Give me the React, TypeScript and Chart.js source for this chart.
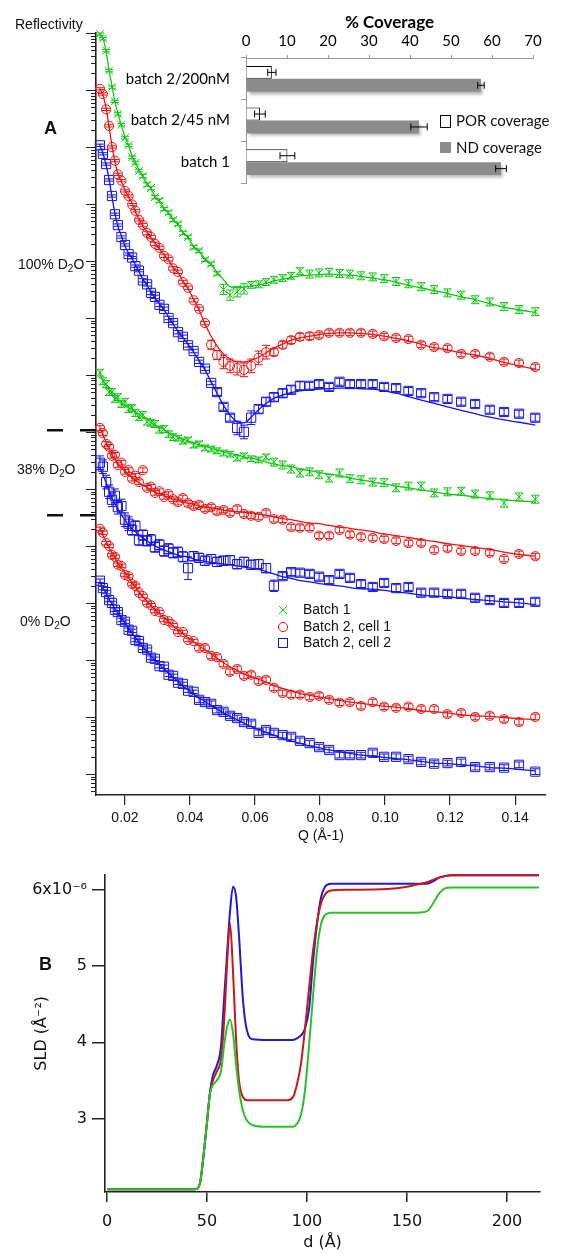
import React, { useEffect, useRef } from "react";
import { Chart, registerables } from "chart.js";
Chart.register(...registerables);

// ---------- Panel A : reflectivity (y values are log10 R) ----------
const Q = [0.0123, 0.0132, 0.0142, 0.0151, 0.0160, 0.0169, 0.0178, 0.0189, 0.0200, 0.0211, 0.0222, 0.0232, 0.0243, 0.0255, 0.0268, 0.0280, 0.0292, 0.0306, 0.0320, 0.0334, 0.0348, 0.0363, 0.0378, 0.0394, 0.0411, 0.0428, 0.0446, 0.0465, 0.0483, 0.0503, 0.0523, 0.0545, 0.0566, 0.0588, 0.0611, 0.0634, 0.0658, 0.0685, 0.0711, 0.0738, 0.0768, 0.0797, 0.0828, 0.0860, 0.0892, 0.0926, 0.0962, 0.0997, 0.1034, 0.1072, 0.1111, 0.1151, 0.1192, 0.1234, 0.1277, 0.1322, 0.1366, 0.1412, 0.1462];
const X_TICKS = [0.02, 0.04, 0.06, 0.08, 0.1, 0.12, 0.14];
const Q_MIN = 0.01108;
const Q_MAX = 0.1495;
const LOGR_MIN = -13.37;
const LOGR_MAX = 0;
const D2O38_MARKS = [-6.97, -8.46];

// 100% D2O
const G100_FIT = [-0.02, -0.09, -0.33, -0.65, -0.93, -1.21, -1.40, -1.63, -1.82, -1.98, -2.16, -2.30, -2.40, -2.53, -2.64, -2.74, -2.86, -2.96, -3.07, -3.17, -3.26, -3.37, -3.49, -3.60, -3.74, -3.84, -3.96, -4.07, -4.19, -4.33, -4.45, -4.47, -4.46, -4.44, -4.42, -4.39, -4.35, -4.32, -4.29, -4.26, -4.25, -4.24, -4.23, -4.24, -4.25, -4.27, -4.30, -4.33, -4.37, -4.43, -4.47, -4.52, -4.57, -4.63, -4.68, -4.75, -4.81, -4.86, -4.90];
const G100_DATA = [-0.02, -0.10, -0.31, -0.66, -0.95, -1.20, -1.42, -1.61, -1.84, -1.97, -2.18, -2.28, -2.42, -2.51, -2.66, -2.72, -2.88, -2.94, -3.09, -3.15, -3.28, -3.35, -3.51, -3.58, -3.76, -3.82, -3.98, -4.05, -4.22, -4.50, -4.60, -4.54, -4.49, -4.42, -4.41, -4.37, -4.33, -4.30, -4.26, -4.18, -4.23, -4.21, -4.20, -4.22, -4.23, -4.26, -4.28, -4.31, -4.36, -4.40, -4.45, -4.50, -4.56, -4.60, -4.68, -4.72, -4.80, -4.85, -4.89];
const G100_ERR = [0.02, 0.02, 0.02, 0.02, 0.02, 0.02, 0.02, 0.02, 0.02, 0.02, 0.02, 0.02, 0.02, 0.03, 0.03, 0.03, 0.03, 0.03, 0.03, 0.03, 0.03, 0.03, 0.03, 0.03, 0.03, 0.03, 0.03, 0.03, 0.03, 0.09, 0.09, 0.09, 0.09, 0.06, 0.06, 0.06, 0.06, 0.06, 0.06, 0.06, 0.07, 0.07, 0.07, 0.07, 0.07, 0.07, 0.07, 0.07, 0.07, 0.07, 0.07, 0.07, 0.07, 0.07, 0.07, 0.07, 0.07, 0.07, 0.07];

const R100_FIT = [-0.98, -1.09, -1.32, -1.65, -1.98, -2.26, -2.46, -2.61, -2.75, -2.88, -2.99, -3.14, -3.26, -3.39, -3.49, -3.60, -3.68, -3.79, -3.89, -3.99, -4.11, -4.21, -4.35, -4.49, -4.67, -4.86, -5.11, -5.32, -5.49, -5.63, -5.72, -5.77, -5.77, -5.74, -5.69, -5.61, -5.53, -5.46, -5.39, -5.35, -5.32, -5.29, -5.27, -5.26, -5.26, -5.27, -5.29, -5.32, -5.36, -5.40, -5.46, -5.52, -5.56, -5.61, -5.65, -5.71, -5.78, -5.84, -5.90];
const R100_DATA = [-0.98, -1.07, -1.34, -1.63, -2.00, -2.24, -2.48, -2.59, -2.77, -2.86, -3.01, -3.12, -3.28, -3.37, -3.51, -3.58, -3.70, -3.77, -3.91, -3.97, -4.13, -4.19, -4.37, -4.47, -4.69, -4.84, -5.09, -5.47, -5.65, -5.77, -5.84, -5.88, -5.91, -5.84, -5.70, -5.60, -5.60, -5.47, -5.39, -5.33, -5.32, -5.30, -5.26, -5.26, -5.26, -5.26, -5.28, -5.32, -5.35, -5.37, -5.47, -5.51, -5.53, -5.63, -5.63, -5.68, -5.77, -5.79, -5.86];
const R100_ERR = [0.02, 0.02, 0.02, 0.02, 0.02, 0.02, 0.02, 0.02, 0.02, 0.02, 0.02, 0.02, 0.02, 0.03, 0.03, 0.03, 0.03, 0.03, 0.03, 0.03, 0.03, 0.03, 0.03, 0.03, 0.03, 0.03, 0.03, 0.08, 0.08, 0.12, 0.12, 0.12, 0.12, 0.12, 0.12, 0.12, 0.06, 0.06, 0.06, 0.06, 0.06, 0.05, 0.05, 0.05, 0.05, 0.05, 0.05, 0.05, 0.05, 0.05, 0.05, 0.05, 0.05, 0.05, 0.05, 0.05, 0.05, 0.05, 0.05];

const B100_FIT = [-1.98, -2.11, -2.32, -2.56, -2.88, -3.16, -3.39, -3.56, -3.74, -3.86, -3.96, -4.07, -4.19, -4.32, -4.43, -4.54, -4.65, -4.75, -4.86, -4.98, -5.11, -5.23, -5.35, -5.46, -5.60, -5.75, -5.91, -6.12, -6.32, -6.53, -6.70, -6.82, -6.84, -6.74, -6.61, -6.50, -6.41, -6.35, -6.31, -6.28, -6.26, -6.25, -6.24, -6.23, -6.23, -6.24, -6.25, -6.28, -6.32, -6.38, -6.44, -6.50, -6.56, -6.62, -6.68, -6.74, -6.79, -6.83, -6.88];
const B100_DATA = [-1.97, -2.12, -2.30, -2.58, -2.86, -3.18, -3.37, -3.58, -3.72, -3.88, -3.94, -4.09, -4.17, -4.34, -4.41, -4.56, -4.63, -4.77, -4.84, -5.00, -5.09, -5.25, -5.33, -5.48, -5.58, -5.77, -5.89, -6.14, -6.30, -6.56, -6.75, -6.93, -7.00, -6.75, -6.60, -6.47, -6.39, -6.32, -6.26, -6.19, -6.19, -6.16, -6.21, -6.12, -6.16, -6.16, -6.16, -6.21, -6.23, -6.28, -6.32, -6.39, -6.42, -6.47, -6.51, -6.61, -6.65, -6.68, -6.75];
const B100_ERR = [0.02, 0.02, 0.02, 0.02, 0.02, 0.02, 0.02, 0.02, 0.02, 0.02, 0.02, 0.02, 0.02, 0.03, 0.03, 0.03, 0.03, 0.03, 0.03, 0.03, 0.03, 0.03, 0.03, 0.03, 0.03, 0.03, 0.03, 0.03, 0.06, 0.06, 0.06, 0.12, 0.12, 0.12, 0.07, 0.07, 0.07, 0.07, 0.07, 0.07, 0.06, 0.06, 0.06, 0.06, 0.06, 0.06, 0.06, 0.06, 0.06, 0.06, 0.06, 0.06, 0.06, 0.06, 0.06, 0.06, 0.06, 0.06, 0.06];

// 38% D2O
const G38_FIT = [-5.98, -6.09, -6.18, -6.25, -6.33, -6.39, -6.43, -6.48, -6.53, -6.57, -6.61, -6.65, -6.69, -6.74, -6.78, -6.83, -6.88, -6.92, -6.96, -7.01, -7.05, -7.09, -7.12, -7.16, -7.19, -7.23, -7.25, -7.29, -7.32, -7.35, -7.38, -7.40, -7.44, -7.46, -7.49, -7.53, -7.56, -7.59, -7.61, -7.65, -7.68, -7.71, -7.74, -7.77, -7.81, -7.84, -7.88, -7.91, -7.95, -7.98, -8.02, -8.05, -8.09, -8.11, -8.14, -8.17, -8.19, -8.21, -8.23];
const G38_DATA = [-5.96, -6.11, -6.16, -6.30, -6.30, -6.42, -6.39, -6.51, -6.47, -6.60, -6.58, -6.67, -6.74, -6.70, -6.82, -6.84, -6.86, -6.96, -6.95, -7.04, -7.09, -7.11, -7.16, -7.14, -7.23, -7.21, -7.28, -7.30, -7.33, -7.37, -7.39, -7.46, -7.42, -7.47, -7.49, -7.44, -7.53, -7.58, -7.65, -7.72, -7.70, -7.75, -7.81, -7.72, -7.82, -7.84, -7.88, -7.89, -7.98, -7.95, -7.95, -8.07, -8.05, -8.04, -8.09, -8.12, -8.25, -8.14, -8.18];
const G38_ERR = [0.06, 0.06, 0.06, 0.06, 0.06, 0.06, 0.06, 0.06, 0.06, 0.06, 0.06, 0.06, 0.06, 0.06, 0.06, 0.06, 0.06, 0.06, 0.06, 0.06, 0.06, 0.05, 0.05, 0.05, 0.05, 0.05, 0.05, 0.05, 0.05, 0.05, 0.05, 0.05, 0.05, 0.05, 0.05, 0.05, 0.07, 0.07, 0.07, 0.07, 0.07, 0.07, 0.07, 0.07, 0.07, 0.07, 0.07, 0.07, 0.07, 0.07, 0.07, 0.07, 0.07, 0.07, 0.07, 0.07, 0.07, 0.07, 0.07];

const R38_FIT = [-6.93, -7.05, -7.18, -7.30, -7.40, -7.48, -7.55, -7.62, -7.68, -7.75, -7.80, -7.85, -7.89, -7.94, -7.97, -8.02, -8.05, -8.09, -8.12, -8.15, -8.18, -8.20, -8.23, -8.25, -8.27, -8.30, -8.32, -8.33, -8.35, -8.37, -8.39, -8.40, -8.41, -8.42, -8.44, -8.46, -8.49, -8.52, -8.54, -8.57, -8.60, -8.61, -8.64, -8.67, -8.69, -8.72, -8.75, -8.79, -8.82, -8.85, -8.89, -8.92, -8.96, -8.99, -9.03, -9.06, -9.11, -9.15, -9.18];
const R38_DATA = [-6.93, -7.02, -7.21, -7.26, -7.42, -7.40, -7.58, -7.54, -7.70, -7.67, -7.82, -7.77, -7.88, -7.67, -7.98, -7.96, -8.07, -8.04, -8.14, -8.09, -8.18, -8.23, -8.16, -8.25, -8.30, -8.28, -8.35, -8.32, -8.39, -8.37, -8.42, -8.35, -8.44, -8.47, -8.49, -8.42, -8.53, -8.54, -8.67, -8.68, -8.68, -8.82, -8.82, -8.72, -8.80, -8.84, -8.86, -8.88, -8.91, -8.95, -8.95, -9.07, -9.04, -9.09, -9.09, -9.12, -9.23, -9.14, -9.18];
const R38_ERR = [0.04, 0.04, 0.04, 0.04, 0.04, 0.04, 0.04, 0.04, 0.04, 0.04, 0.04, 0.04, 0.04, 0.04, 0.04, 0.04, 0.04, 0.04, 0.04, 0.04, 0.04, 0.05, 0.05, 0.05, 0.05, 0.05, 0.05, 0.05, 0.05, 0.05, 0.05, 0.05, 0.05, 0.05, 0.05, 0.05, 0.05, 0.05, 0.05, 0.05, 0.05, 0.05, 0.05, 0.05, 0.05, 0.05, 0.05, 0.05, 0.05, 0.05, 0.05, 0.05, 0.05, 0.05, 0.05, 0.05, 0.05, 0.05, 0.05];

const B38_FIT = [-7.63, -7.75, -7.89, -8.04, -8.16, -8.26, -8.35, -8.46, -8.54, -8.63, -8.70, -8.75, -8.81, -8.86, -8.91, -8.96, -9.00, -9.04, -9.07, -9.10, -9.13, -9.16, -9.18, -9.19, -9.23, -9.25, -9.27, -9.29, -9.30, -9.32, -9.33, -9.35, -9.37, -9.39, -9.41, -9.45, -9.49, -9.54, -9.57, -9.61, -9.63, -9.66, -9.68, -9.70, -9.73, -9.75, -9.76, -9.78, -9.81, -9.83, -9.86, -9.88, -9.89, -9.92, -9.94, -9.96, -9.98, -10.00, -10.03];
const B38_DATA = [-7.54, -7.61, -7.88, -8.05, -8.19, -8.12, -8.32, -8.30, -8.54, -8.61, -8.72, -8.65, -8.90, -8.81, -8.91, -8.89, -9.02, -8.98, -9.09, -9.05, -9.12, -9.11, -9.19, -9.39, -9.18, -9.21, -9.26, -9.23, -9.28, -9.26, -9.25, -9.32, -9.28, -9.33, -9.32, -9.39, -9.70, -9.53, -9.46, -9.47, -9.49, -9.54, -9.60, -9.49, -9.56, -9.67, -9.72, -9.65, -9.74, -9.72, -9.82, -9.82, -9.84, -9.84, -9.91, -9.95, -10.00, -10.00, -9.98];
const B38_ERR = [0.12, 0.12, 0.12, 0.12, 0.12, 0.12, 0.12, 0.12, 0.12, 0.12, 0.09, 0.09, 0.09, 0.09, 0.09, 0.09, 0.09, 0.09, 0.09, 0.09, 0.09, 0.09, 0.09, 0.2, 0.08, 0.08, 0.08, 0.08, 0.08, 0.08, 0.08, 0.08, 0.08, 0.08, 0.08, 0.08, 0.1, 0.06, 0.06, 0.06, 0.06, 0.06, 0.06, 0.06, 0.06, 0.06, 0.06, 0.06, 0.06, 0.06, 0.06, 0.06, 0.06, 0.06, 0.06, 0.06, 0.06, 0.06, 0.06];

// 0% D2O
const R0_FIT = [-8.68, -8.81, -8.92, -9.04, -9.12, -9.21, -9.30, -9.39, -9.47, -9.56, -9.64, -9.72, -9.81, -9.89, -9.97, -10.05, -10.11, -10.19, -10.26, -10.33, -10.41, -10.47, -10.54, -10.61, -10.68, -10.75, -10.82, -10.89, -10.97, -11.05, -11.12, -11.18, -11.25, -11.29, -11.34, -11.39, -11.45, -11.50, -11.54, -11.59, -11.62, -11.65, -11.68, -11.71, -11.74, -11.76, -11.79, -11.81, -11.83, -11.85, -11.89, -11.91, -11.93, -11.96, -11.98, -11.99, -12.01, -12.03, -12.05];
const R0_DATA = [-8.70, -8.77, -8.95, -9.00, -9.16, -9.19, -9.33, -9.35, -9.51, -9.53, -9.67, -9.70, -9.82, -9.88, -10.00, -10.04, -10.14, -10.16, -10.30, -10.32, -10.39, -10.51, -10.51, -10.65, -10.67, -10.79, -10.79, -10.93, -10.95, -11.07, -11.21, -11.16, -11.28, -11.26, -11.37, -11.35, -11.49, -11.58, -11.61, -11.61, -11.65, -11.63, -11.70, -11.75, -11.74, -11.81, -11.74, -11.82, -11.84, -11.82, -11.86, -11.86, -11.95, -11.93, -12.00, -11.98, -12.04, -12.09, -12.00];
const R0_ERR = [0.03, 0.03, 0.03, 0.03, 0.03, 0.03, 0.03, 0.03, 0.03, 0.03, 0.03, 0.03, 0.03, 0.03, 0.03, 0.03, 0.03, 0.03, 0.03, 0.03, 0.03, 0.03, 0.03, 0.03, 0.03, 0.05, 0.05, 0.05, 0.05, 0.05, 0.05, 0.05, 0.05, 0.05, 0.05, 0.05, 0.05, 0.05, 0.05, 0.05, 0.05, 0.05, 0.05, 0.05, 0.05, 0.05, 0.05, 0.05, 0.05, 0.05, 0.05, 0.05, 0.05, 0.05, 0.05, 0.05, 0.05, 0.05, 0.05];

const B0_FIT = [-9.63, -9.74, -9.83, -9.93, -10.02, -10.10, -10.18, -10.26, -10.35, -10.44, -10.53, -10.61, -10.68, -10.77, -10.85, -10.93, -11.00, -11.08, -11.16, -11.23, -11.31, -11.37, -11.46, -11.52, -11.60, -11.67, -11.73, -11.80, -11.86, -11.93, -11.99, -12.05, -12.11, -12.17, -12.22, -12.27, -12.32, -12.38, -12.42, -12.46, -12.51, -12.54, -12.58, -12.61, -12.64, -12.67, -12.69, -12.71, -12.73, -12.75, -12.78, -12.81, -12.82, -12.84, -12.86, -12.89, -12.90, -12.92, -12.95];
const B0_DATA = [-9.61, -9.74, -9.81, -9.95, -10.00, -10.12, -10.16, -10.30, -10.33, -10.47, -10.49, -10.65, -10.67, -10.79, -10.82, -10.96, -10.98, -11.11, -11.12, -11.26, -11.28, -11.40, -11.42, -11.54, -11.56, -11.70, -11.74, -11.77, -11.88, -11.91, -11.98, -12.02, -12.09, -12.12, -12.28, -12.23, -12.28, -12.32, -12.35, -12.42, -12.46, -12.53, -12.58, -12.67, -12.67, -12.67, -12.63, -12.70, -12.70, -12.74, -12.79, -12.82, -12.81, -12.79, -12.88, -12.88, -12.89, -12.84, -12.96];
const B0_ERR = [0.03, 0.03, 0.03, 0.03, 0.03, 0.03, 0.03, 0.03, 0.03, 0.03, 0.03, 0.03, 0.03, 0.03, 0.03, 0.03, 0.03, 0.03, 0.03, 0.03, 0.03, 0.03, 0.03, 0.03, 0.03, 0.05, 0.05, 0.05, 0.05, 0.05, 0.05, 0.05, 0.05, 0.05, 0.05, 0.05, 0.05, 0.05, 0.05, 0.05, 0.05, 0.05, 0.05, 0.05, 0.05, 0.05, 0.05, 0.05, 0.05, 0.05, 0.05, 0.05, 0.05, 0.05, 0.05, 0.05, 0.05, 0.05, 0.05];

const LEGEND_A = ["Batch 1", "Batch 2, cell 1", "Batch 2, cell 2"];

// ---------- Inset : coverage ----------
const COVER_CATS = ["batch 2/200nM", "batch 2/45 nM", "batch 1"];
const POR_COVER = [6.3, 3.4, 10.1];
const POR_ERR = [1.0, 1.3, 1.8];
const ND_COVER = [57.3, 42.2, 62.2];
const ND_ERR = [0.8, 2.0, 1.3];

// ---------- Panel B : SLD profiles (units of 1e-6 Å^-2) ----------
const D = [0, 44, 46.5, 48, 50, 51.5, 53, 55, 57, 58.5, 60, 61.5, 63, 64.5, 66, 68, 70, 73, 80, 90, 93, 95, 97, 99, 101, 103, 105, 107, 109, 112, 120, 140, 150, 155, 160, 163, 166, 169, 172, 180, 216];
const SLD_GREEN = [2.07, 2.07, 2.15, 2.45, 2.95, 3.33, 3.44, 3.50, 3.62, 3.95, 4.20, 4.30, 4.12, 3.72, 3.38, 3.10, 2.97, 2.91, 2.89, 2.89, 2.89, 2.93, 3.05, 3.37, 3.95, 4.60, 5.20, 5.55, 5.67, 5.70, 5.70, 5.70, 5.70, 5.70, 5.72, 5.82, 5.95, 6.02, 6.03, 6.03, 6.03];
const SLD_RED = [2.07, 2.07, 2.15, 2.45, 2.95, 3.33, 3.50, 3.62, 3.78, 4.25, 5.00, 5.56, 4.93, 4.06, 3.50, 3.28, 3.24, 3.24, 3.24, 3.24, 3.28, 3.45, 3.72, 4.18, 4.70, 5.20, 5.57, 5.82, 5.94, 5.99, 6.00, 6.01, 6.04, 6.07, 6.10, 6.13, 6.16, 6.18, 6.19, 6.19, 6.19];
const SLD_BLUE = [2.07, 2.07, 2.15, 2.45, 2.95, 3.35, 3.57, 3.70, 3.95, 4.55, 5.15, 5.71, 6.04, 5.92, 5.40, 4.55, 4.15, 4.04, 4.03, 4.03, 4.03, 4.05, 4.09, 4.18, 4.43, 5.05, 5.55, 5.90, 6.04, 6.08, 6.08, 6.08, 6.08, 6.08, 6.08, 6.11, 6.16, 6.18, 6.19, 6.19, 6.19];
const D_TICKS = [0, 50, 100, 150, 200];
const SLD_TICKS = [3, 4, 5, 6];

const FONT_A = "'Liberation Sans', Arial, Helvetica, sans-serif";
const FONT_INSET = "Lato, 'Open Sans', sans-serif";
const FONT_B = "'DejaVu Sans', Verdana, sans-serif";

const GREEN = "rgb(20,200,20)";
const RED = "rgb(240,20,20)";
const BLUE = "rgb(20,20,235)";

const errorBarsV = {
  id: "errorBarsV",
  afterDatasetDraw(chart: any, args: any) {
    const ds = chart.data.datasets[args.index];
    const errs = ds.errorBars;
    if (!errs) return;
    const ys = chart.scales.y;
    const ctx = chart.ctx;
    ctx.save();
    ctx.strokeStyle = ds.borderColor;
    ctx.lineWidth = 1;
    args.meta.data.forEach((pt: any, i: number) => {
      const v = ds.data[i].y;
      const e = errs[i];
      const y1 = ys.getPixelForValue(v + e);
      const y2 = ys.getPixelForValue(v - e);
      const x = pt.x;
      ctx.beginPath();
      ctx.moveTo(x, y1);
      ctx.lineTo(x, y2);
      ctx.moveTo(x - 4, y1);
      ctx.lineTo(x + 4, y1);
      ctx.moveTo(x - 4, y2);
      ctx.lineTo(x + 4, y2);
      ctx.stroke();
    });
    ctx.restore();
  },
};

const logTicks = {
  id: "logTicks",
  afterDraw(chart: any) {
    const ys = chart.scales.y;
    const ctx = chart.ctx;
    const left = chart.chartArea.left;
    ctx.save();
    ctx.strokeStyle = "#222";
    ctx.lineWidth = 1;
    for (let n = Math.floor(ys.min); n <= Math.ceil(ys.max); n++) {
      for (let k = 1; k <= 9; k++) {
        const v = n + Math.log10(k);
        if (v < ys.min - 1e-9 || v > ys.max + 1e-9) continue;
        const y = Math.round(ys.getPixelForValue(v)) + 0.5;
        const len = k === 1 ? 10 : 5;
        ctx.beginPath();
        ctx.moveTo(left - len, y);
        ctx.lineTo(left, y);
        ctx.stroke();
      }
    }
    ctx.lineWidth = 2.5;
    ctx.strokeStyle = "#111";
    D2O38_MARKS.forEach((v) => {
      const y = ys.getPixelForValue(v);
      ctx.beginPath();
      ctx.moveTo(47, y);
      ctx.lineTo(63, y);
      ctx.moveTo(80, y);
      ctx.lineTo(left, y);
      ctx.stroke();
    });
    ctx.restore();
  },
};

function ReflectivityChart() {
  const ref = useRef<HTMLCanvasElement>(null);
  useEffect(() => {
    const series = [
      { data: G100_DATA, fit: G100_FIT, err: G100_ERR, color: GREEN, marker: "crossRot", r: 5.5 },
      { data: R100_DATA, fit: R100_FIT, err: R100_ERR, color: RED, marker: "circle", r: 4.6 },
      { data: B100_DATA, fit: B100_FIT, err: B100_ERR, color: BLUE, marker: "rect", r: 6.5 },
      { data: G38_DATA, fit: G38_FIT, err: G38_ERR, color: GREEN, marker: "crossRot", r: 5.5 },
      { data: R38_DATA, fit: R38_FIT, err: R38_ERR, color: RED, marker: "circle", r: 4.6 },
      { data: B38_DATA, fit: B38_FIT, err: B38_ERR, color: BLUE, marker: "rect", r: 6.5 },
      { data: R0_DATA, fit: R0_FIT, err: R0_ERR, color: RED, marker: "circle", r: 4.6 },
      { data: B0_DATA, fit: B0_FIT, err: B0_ERR, color: BLUE, marker: "rect", r: 6.5 },
    ];
    const datasets: any[] = [];
    series.forEach((s) => {
      datasets.push({
        data: Q.map((q, i) => ({ x: q, y: s.data[i] })),
        showLine: false,
        pointStyle: s.marker,
        pointRadius: s.r,
        pointBorderWidth: 1,
        pointBorderColor: s.color,
        pointBackgroundColor: "rgba(0,0,0,0)",
        borderColor: s.color,
        errorBars: s.err,
        clip: false,
      });
      datasets.push({
        data: Q.map((q, i) => ({ x: q, y: s.fit[i] })),
        pointRadius: 0,
        borderColor: s.color,
        borderWidth: 1.3,
        cubicInterpolationMode: "monotone",
        fill: false,
      });
    });
    const chart = new Chart(ref.current as HTMLCanvasElement, {
      type: "line",
      data: { datasets },
      options: {
        responsive: false,
        animation: false,
        events: [],
        layout: { padding: { left: 96, top: 33, right: 40, bottom: 15 } },
        plugins: { legend: { display: false }, tooltip: { enabled: false } },
        scales: {
          x: {
            type: "linear",
            min: Q_MIN,
            max: Q_MAX,
            afterBuildTicks: (s: any) => {
              s.ticks = X_TICKS.map((v) => ({ value: v }));
            },
            ticks: {
              callback: (v: any) => Number(v).toFixed(2),
              font: { family: FONT_A, size: 14 },
              color: "#111",
              padding: 5,
              maxRotation: 0,
              autoSkip: false,
            },
            grid: { drawOnChartArea: false, tickLength: 10, color: "#222", tickColor: "#222", lineWidth: 1.2 },
            border: { color: "#222", width: 1.6 },
            title: { display: true, text: "Q (Å-1)", font: { family: FONT_A, size: 14 }, color: "#111", padding: { top: 0, bottom: 0 } },
            afterFit: (s: any) => {
              s.height = 50;
            },
          },
          y: {
            type: "linear",
            min: LOGR_MIN,
            max: LOGR_MAX,
            ticks: { display: false },
            grid: { display: false },
            border: { display: true, color: "#222", width: 1.6 },
            afterFit: (s: any) => {
              s.width = 0;
            },
          },
        },
      } as any,
      plugins: [errorBarsV, logTicks],
    });
    return () => chart.destroy();
  }, []);
  return <canvas ref={ref} width={586} height={860} style={{ position: "absolute", left: 0, top: 0 }} />;
}

const errorBarsH = {
  id: "errorBarsH",
  afterDatasetDraw(chart: any, args: any) {
    const ds = chart.data.datasets[args.index];
    const errs = ds.errorBars;
    if (!errs) return;
    const xs = chart.scales.x;
    const ctx = chart.ctx;
    ctx.save();
    ctx.strokeStyle = "#000";
    ctx.lineWidth = 1;
    args.meta.data.forEach((bar: any, i: number) => {
      const v = ds.data[i];
      const e = errs[i];
      const x1 = xs.getPixelForValue(v - e);
      const x2 = xs.getPixelForValue(v + e);
      const y = bar.y;
      ctx.beginPath();
      ctx.moveTo(x1, y);
      ctx.lineTo(x2, y);
      ctx.moveTo(x1, y - 3.5);
      ctx.lineTo(x1, y + 3.5);
      ctx.moveTo(x2, y - 3.5);
      ctx.lineTo(x2, y + 3.5);
      ctx.stroke();
    });
    ctx.restore();
  },
};

const barShadow = {
  id: "barShadow",
  beforeDatasetDraw(chart: any, args: any) {
    if (args.index !== 1) return;
    const ctx = chart.ctx;
    ctx.save();
    ctx.shadowColor = "rgba(0,0,0,0.3)";
    ctx.shadowBlur = 3;
    ctx.shadowOffsetX = 2;
    ctx.shadowOffsetY = 3;
  },
  afterDatasetDraw(chart: any, args: any) {
    if (args.index !== 1) return;
    chart.ctx.restore();
  },
};

function CoverageChart() {
  const ref = useRef<HTMLCanvasElement>(null);
  useEffect(() => {
    const chart = new Chart(ref.current as HTMLCanvasElement, {
      type: "bar",
      data: {
        labels: COVER_CATS,
        datasets: [
          { label: "POR coverage", data: POR_COVER, backgroundColor: "#ffffff", borderColor: "#000", borderWidth: 1, errorBars: POR_ERR } as any,
          { label: "ND coverage", data: ND_COVER, backgroundColor: "#8c8c8c", borderWidth: 0, errorBars: ND_ERR } as any,
        ],
      },
      options: {
        indexAxis: "y",
        responsive: false,
        animation: false,
        events: [],
        layout: { padding: { left: 0, top: 0, right: 53, bottom: 20 } },
        datasets: { bar: { categoryPercentage: 0.62, barPercentage: 1 } },
        plugins: { legend: { display: false }, tooltip: { enabled: false } },
        scales: {
          x: {
            position: "top",
            min: 0,
            max: 70,
            ticks: { stepSize: 10, font: { family: FONT_INSET, size: 15 }, color: "#000", padding: 5 },
            grid: { drawOnChartArea: false, tickLength: 3, color: "#999" },
            border: { color: "#999" },
            title: { display: true, text: "% Coverage", font: { family: FONT_INSET, size: 17, weight: "bold" }, color: "#000", padding: { top: 12, bottom: 0 } },
            afterFit: (s: any) => {
              s.height = 58;
            },
          },
          y: {
            ticks: { font: { family: FONT_INSET, size: 15 }, color: "#000", padding: 11 },
            grid: { offset: true, drawOnChartArea: false, tickLength: 5, color: "#999" },
            border: { color: "#999" },
            afterFit: (s: any) => {
              s.width = 136;
            },
          },
        },
      } as any,
      plugins: [barShadow, errorBarsH],
    });
    return () => chart.destroy();
  }, []);
  return <canvas ref={ref} width={476} height={203} style={{ position: "absolute", left: 110, top: 0 }} />;
}

function SldChart() {
  const ref = useRef<HTMLCanvasElement>(null);
  useEffect(() => {
    const lines = [
      { data: SLD_GREEN, color: "rgb(40,195,40)" },
      { data: SLD_RED, color: "rgb(200,25,30)" },
      { data: SLD_BLUE, color: "rgb(30,30,200)" },
    ];
    const chart = new Chart(ref.current as HTMLCanvasElement, {
      type: "line",
      data: {
        datasets: lines.map((l) => ({
          data: D.map((d, i) => ({ x: d, y: l.data[i] })),
          borderColor: l.color,
          borderWidth: 2,
          pointRadius: 0,
          cubicInterpolationMode: "monotone",
          fill: false,
          clip: false,
        })),
      },
      options: {
        responsive: false,
        animation: false,
        events: [],
        layout: { padding: { left: 0, top: 13, right: 46, bottom: 3 } },
        plugins: { legend: { display: false }, tooltip: { enabled: false } },
        scales: {
          x: {
            type: "linear",
            min: -1,
            max: 216.5,
            afterBuildTicks: (s: any) => {
              s.ticks = D_TICKS.map((v) => ({ value: v }));
            },
            ticks: { font: { family: FONT_B, size: 16 }, color: "#111", padding: 10, maxRotation: 0, autoSkip: false },
            grid: { drawOnChartArea: false, tickLength: 10, color: "#222", lineWidth: 1.5 },
            border: { color: "#222", width: 1.6 },
            title: { display: true, text: "d (Å)", font: { family: FONT_B, size: 16 }, color: "#111", padding: { top: 0, bottom: 0 } },
            afterFit: (s: any) => {
              s.height = 60;
            },
          },
          y: {
            type: "linear",
            min: 2.035,
            max: 6.2,
            afterBuildTicks: (s: any) => {
              s.ticks = SLD_TICKS.map((v) => ({ value: v }));
            },
            ticks: {
              callback: (v: any) => (v === 6 ? "6x10⁻⁶" : String(v)),
              font: { family: FONT_B, size: 16 },
              color: "#111",
              padding: 5,
            },
            grid: { drawOnChartArea: false, tickLength: 13, color: "#222", lineWidth: 1.5 },
            border: { color: "#222", width: 1.6 },
            title: { display: true, text: "SLD (Å⁻²)", font: { family: FONT_B, size: 16 }, color: "#111", padding: { top: 32, bottom: 0 } },
            afterFit: (s: any) => {
              s.width = 105;
            },
          },
        },
      } as any,
    });
    return () => chart.destroy();
  }, []);
  return <canvas ref={ref} width={586} height={395} style={{ position: "absolute", left: 0, top: 860 }} />;
}

function Label(props: { left: number; top: number; size: number; bold?: boolean; family?: string; children: any }) {
  return (
    <div
      style={{
        position: "absolute",
        left: props.left,
        top: props.top,
        fontSize: props.size,
        fontWeight: props.bold ? "bold" : "normal",
        fontFamily: props.family || FONT_A,
        lineHeight: 1,
        whiteSpace: "nowrap",
        color: "#111",
      }}
    >
      {props.children}
    </div>
  );
}

const Sub = (p: { children: any }) => (
  <span style={{ fontSize: 10, position: "relative", top: 3 }}>{p.children}</span>
);

export default function App() {
  return (
    <div style={{ position: "relative", width: 586, height: 1255, background: "#fff", overflow: "hidden" }}>
      <style>{"html,body{margin:0;padding:0;background:#fff}"}</style>
      <ReflectivityChart />
      <SldChart />
      <CoverageChart />
      <Label left={15} top={17} size={14}>Reflectivity</Label>
      <Label left={44} top={119} size={18} bold>A</Label>
      <Label left={18} top={257} size={14}>100% D<Sub>2</Sub>O</Label>
      <Label left={17} top={462} size={14}>38% D<Sub>2</Sub>O</Label>
      <Label left={20} top={614} size={14}>0% D<Sub>2</Sub>O</Label>
      <Label left={39} top={955} size={18} bold>B</Label>
      {/* Panel A legend */}
      <svg width={14} height={50} style={{ position: "absolute", left: 276, top: 602 }}>
        <path d="M3 4 L11 12 M11 4 L3 12" stroke={GREEN} strokeWidth={1} fill="none" />
        <circle cx={7} cy={25} r={4.6} stroke={RED} strokeWidth={1} fill="none" />
        <rect x={2.5} y={36.5} width={9} height={9} stroke={BLUE} strokeWidth={1} fill="none" />
      </svg>
      <Label left={303} top={602} size={14}>{LEGEND_A[0]}</Label>
      <Label left={303} top={619} size={14}>{LEGEND_A[1]}</Label>
      <Label left={303} top={635} size={14}>{LEGEND_A[2]}</Label>
      {/* Inset legend */}
      <div style={{ position: "absolute", left: 440, top: 115, width: 9, height: 11, border: "1px solid #000", background: "#fff" }} />
      <div style={{ position: "absolute", left: 440, top: 142, width: 11, height: 11, background: "#8c8c8c" }} />
      <Label left={456} top={113} size={15} family={FONT_INSET}>POR coverage</Label>
      <Label left={456} top={140} size={15} family={FONT_INSET}>ND coverage</Label>
    </div>
  );
}
